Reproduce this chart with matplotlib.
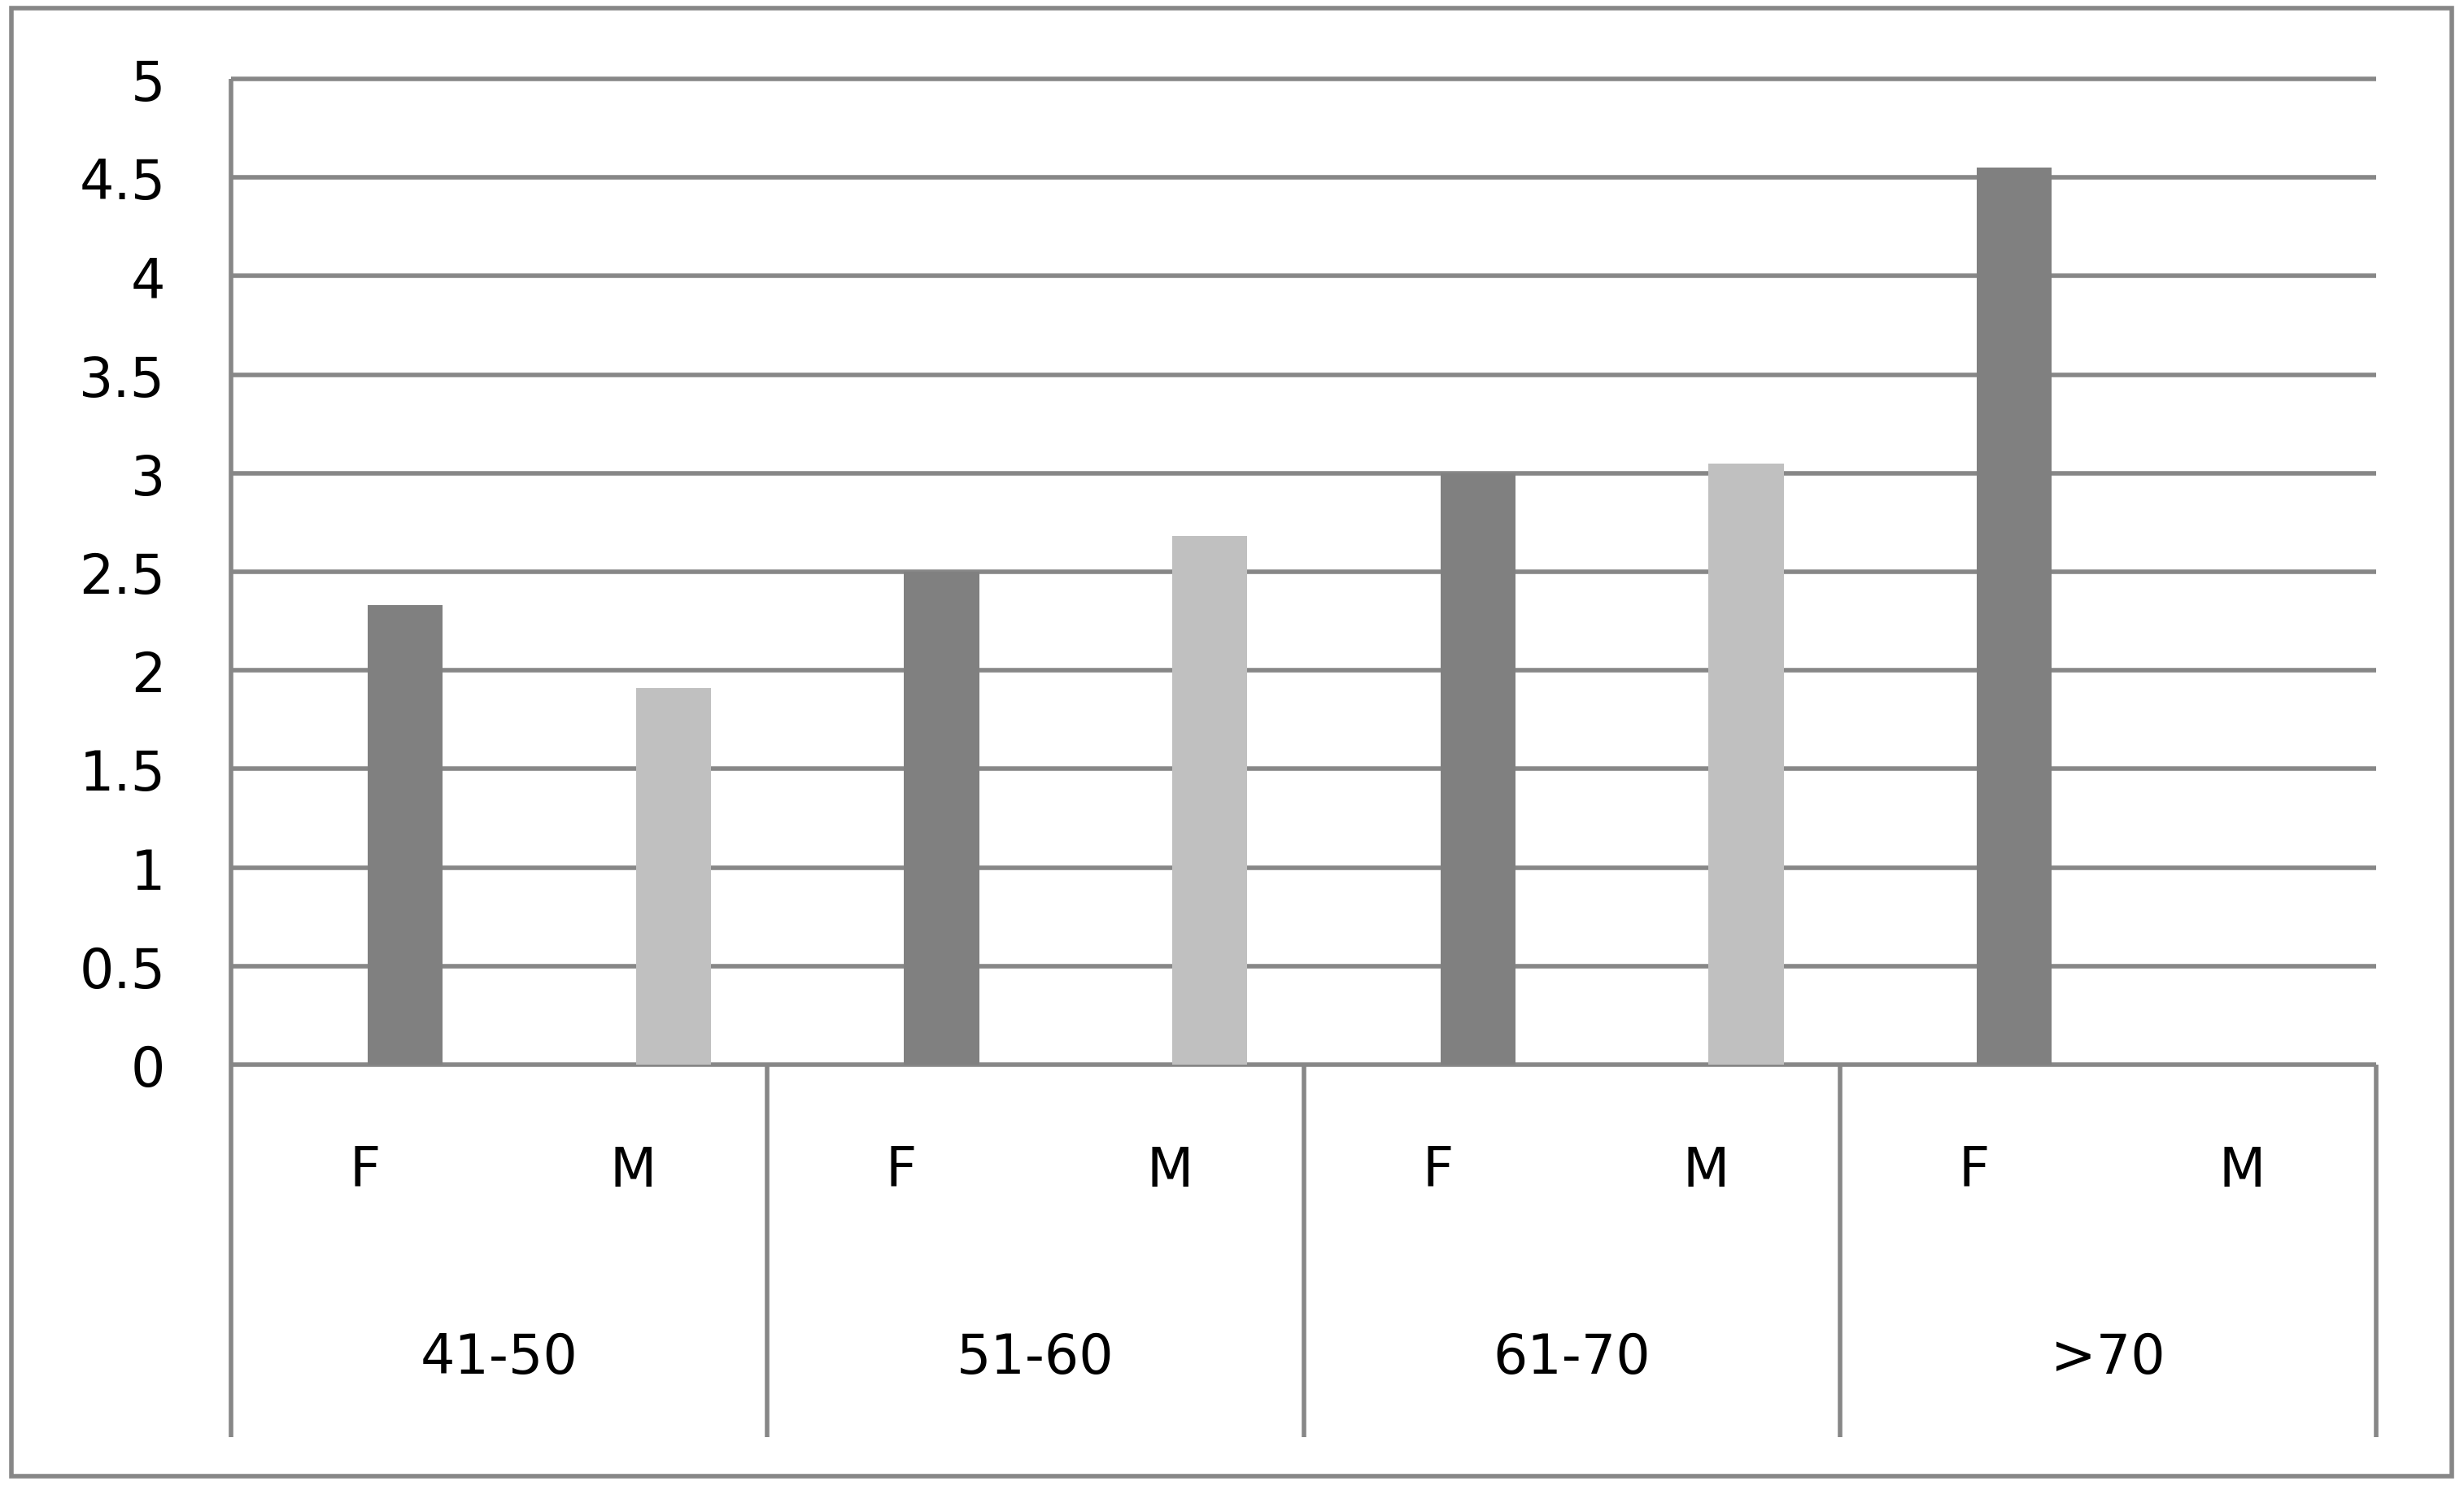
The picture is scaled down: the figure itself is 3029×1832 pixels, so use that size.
import matplotlib
matplotlib.use("Agg")
import matplotlib.pyplot as plt
from matplotlib.patches import Rectangle
import numpy as np

# ---- data ----
groups = ["41-50", "51-60", "61-70", ">70"]
sexes = ["F", "M"]
values_F = [2.33, 2.50, 3.00, 4.55]
values_M = [1.91, 2.68, 3.05, 0.0]
yticks = [0, 0.5, 1, 1.5, 2, 2.5, 3, 3.5, 4, 4.5, 5]
ytick_labels = ["0", "0.5", "1", "1.5", "2", "2.5", "3", "3.5", "4", "4.5", "5"]

# ---- style ----
W, H, DPI = 3029, 1833, 100
line_col = "#878787"
lw = 4.0
fs = 48
dark = "#808080"
light = "#c0c0c0"
plt.rcParams["font.family"] = ["DejaVu Sans"]

fig = plt.figure(figsize=(W / DPI, H / DPI), dpi=DPI)
fig.patch.set_facecolor("white")

x_left, x_right = 284, 2921
y_top, y_zero = 98, 1310
ax = fig.add_axes([x_left / W, 1 - y_zero / H, (x_right - x_left) / W, (y_zero - y_top) / H])

n_slots = len(groups) * len(sexes)
ax.set_xlim(-0.5, n_slots - 0.5)
ax.set_ylim(0, 5)

# bars
offset = 0.15
bw = 0.28
xF = [g * 2 + offset for g in range(len(groups))]
xM = [g * 2 + 1 + offset for g in range(len(groups))]
ax.bar(xF, values_F, width=bw, color=dark, zorder=3, linewidth=0)
ax.bar(xM, values_M, width=bw, color=light, zorder=3, linewidth=0)

# gridlines
for yv in yticks:
    ax.axhline(yv, color=line_col, lw=lw, zorder=1, solid_capstyle="butt", clip_on=False)

ax.set_yticks(yticks)
ax.set_yticklabels(ytick_labels, fontsize=fs)
ax.tick_params(axis="y", length=0, pad=58)
ax.set_xticks([])
for s in ["top", "right", "bottom", "left"]:
    ax.spines[s].set_visible(False)

# category axis area (below the plot)
cat_bottom = -(1768 - y_zero) / (y_zero - y_top)  # axes fraction
tr = ax.get_xaxis_transform()
# left axis line (full height incl. category area)
ax.plot([-0.5, -0.5], [1.0, cat_bottom], color=line_col, lw=lw, transform=tr, clip_on=False, zorder=4,
        solid_capstyle="butt")
for g in range(1, len(groups) + 1):
    xs = g * 2 - 0.5
    ax.plot([xs, xs], [0, cat_bottom], color=line_col, lw=lw, transform=tr, clip_on=False, zorder=4,
            solid_capstyle="butt")

sex_y = -(1440 - y_zero) / (y_zero - y_top)
grp_y = -(1670 - y_zero) / (y_zero - y_top)
for g, name in enumerate(groups):
    for s, sx in enumerate(sexes):
        ax.text(g * 2 + s, sex_y, sx, transform=tr, ha="center", va="center", fontsize=fs, color="black")
    ax.text(g * 2 + 0.5, grp_y, name, transform=tr, ha="center", va="center", fontsize=fs, color="black")

# outer border
fig.patches.append(Rectangle((14 / W, 1 - 1816 / H), (3014 - 14) / W, (1816 - 11) / H,
                             transform=fig.transFigure, fill=False, edgecolor=line_col, lw=lw))

fig.savefig("out.png", dpi=DPI, facecolor="white")
